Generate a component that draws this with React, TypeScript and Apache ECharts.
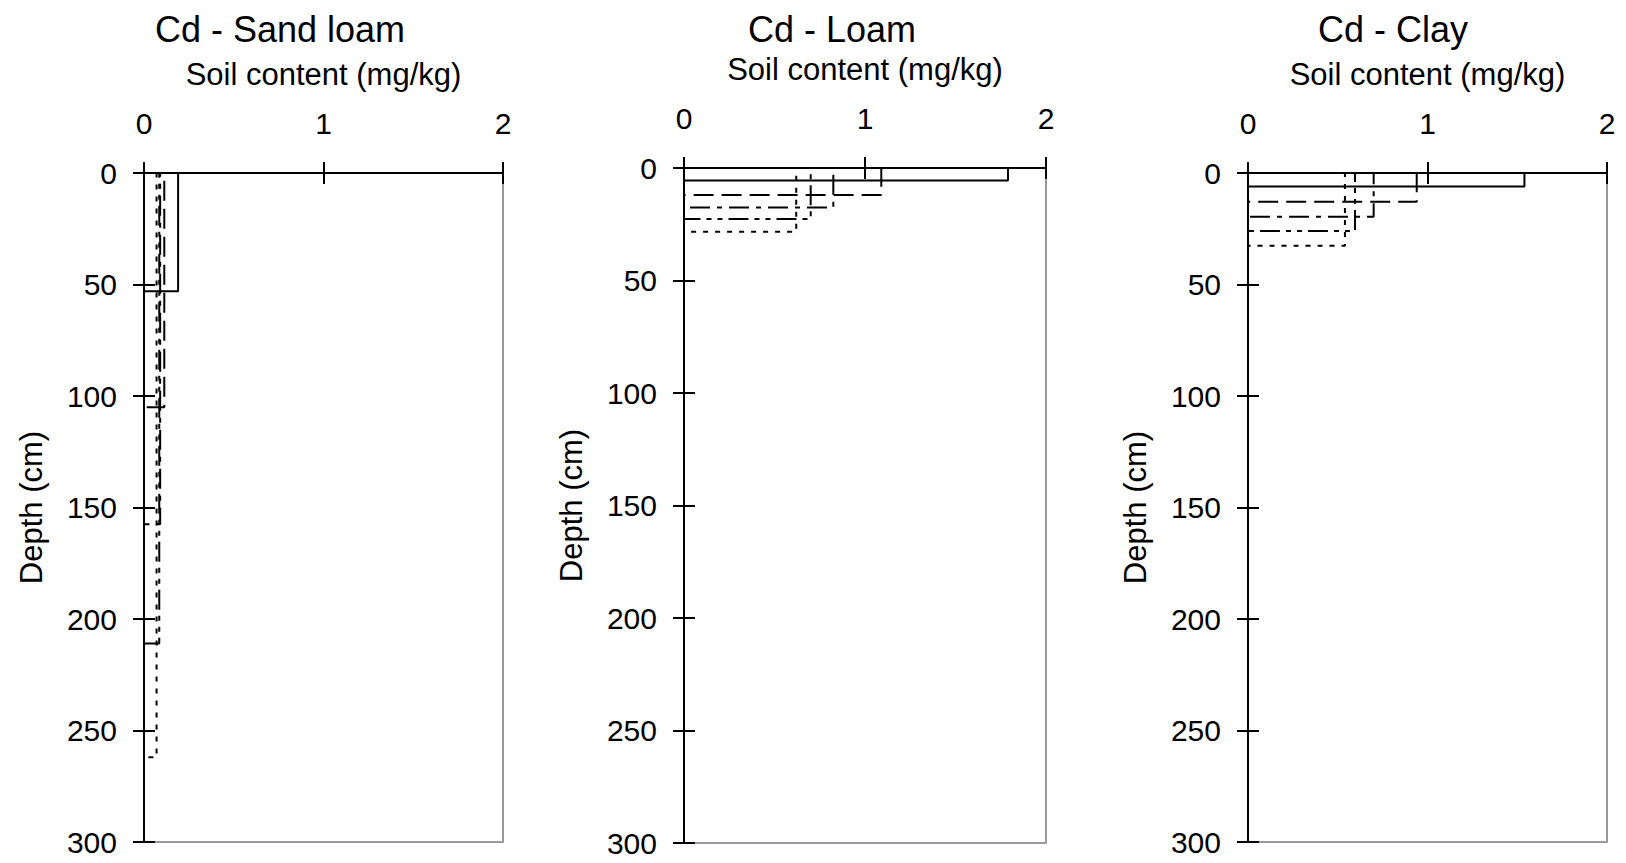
import { useEffect, useRef } from "react";
import * as echarts from "echarts";

// ---- data ----
const panelTitles = ["Cd - Sand loam", "Cd - Loam", "Cd - Clay"];
const xAxisName = "Soil content (mg/kg)";
const yAxisName = "Depth (cm)";
const contentTicks = [0, 1, 2];
const depthTicks = [0, 50, 100, 150, 200, 250, 300];
const profileNames = ["Profile 1", "Profile 2", "Profile 3", "Profile 4", "Profile 5"];

// content (mg/kg) of each profile and the depth (cm) it reaches
const sandLoamContent = [0.19, 0.113, 0.09, 0.085, 0.07];
const sandLoamDepth = [53, 105, 157.5, 211, 262];
const loamContent = [1.79, 1.09, 0.825, 0.7, 0.62];
const loamDepth = [5.6, 12, 17.5, 22.7, 28.3];
const clayContent = [1.54, 0.94, 0.7, 0.596, 0.54];
const clayDepth = [6.1, 12.9, 19.6, 26, 32.6];

const panelContent = [sandLoamContent, loamContent, clayContent];
const panelDepth = [sandLoamDepth, loamDepth, clayDepth];

// ---- layout / style ----
const FONT = '"Liberation Sans", Arial, sans-serif';
const grids = [
  { left: 144, top: 173, width: 359, height: 669 },
  { left: 684, top: 168, width: 362, height: 675 },
  { left: 1248, top: 173, width: 359, height: 669 },
];
const titlePos = [
  [280, 29],
  [832, 29],
  [1393, 29],
];
const dashes: any[] = ["solid", [20, 8], [20, 7, 5, 7], [20, 6, 5, 6, 5, 6], [5, 7]];

function buildOption() {
  const xMin = contentTicks[0];
  const xMax = contentTicks[contentTicks.length - 1];
  const xInt = contentTicks[1] - contentTicks[0];
  const yMin = depthTicks[0];
  const yMax = depthTicks[depthTicks.length - 1];
  const yInt = depthTicks[1] - depthTicks[0];

  const grid: any[] = [];
  const xAxis: any[] = [];
  const yAxis: any[] = [];
  const series: any[] = [];

  grids.forEach((g, i) => {
    grid.push({
      ...g,
      show: true,
      borderColor: "#9a9a9a",
      borderWidth: 2,
      backgroundColor: "transparent",
    });
    const tickStyle = { color: "#000", width: 2 };
    xAxis.push({
      gridIndex: i,
      type: "value",
      position: "top",
      min: xMin,
      max: xMax,
      interval: xInt,
      axisLine: { show: true, onZero: false, lineStyle: { color: "#000", width: 2 } },
      axisTick: { show: true, length: 11, lineStyle: tickStyle },
      axisLabel: { fontSize: 30, color: "#000", margin: 35, fontFamily: FONT },
      splitLine: { show: false },
      name: xAxisName,
      nameLocation: "middle",
      nameGap: 83,
      nameTextStyle: { fontSize: 31, color: "#000", fontFamily: FONT },
    });
    xAxis.push({
      gridIndex: i,
      type: "value",
      position: "top",
      min: xMin,
      max: xMax,
      interval: xInt,
      axisLine: { show: false, onZero: false },
      axisTick: { show: true, inside: true, length: 11, lineStyle: tickStyle },
      axisLabel: { show: false },
      splitLine: { show: false },
    });
    yAxis.push({
      gridIndex: i,
      type: "value",
      position: "left",
      inverse: true,
      min: yMin,
      max: yMax,
      interval: yInt,
      axisLine: { show: true, onZero: false, lineStyle: { color: "#000", width: 2 } },
      axisTick: { show: true, length: 11, lineStyle: tickStyle },
      axisLabel: { fontSize: 30, color: "#000", margin: 27, fontFamily: FONT },
      splitLine: { show: false },
      name: yAxisName,
      nameLocation: "middle",
      nameGap: 97,
      nameRotate: 90,
      nameTextStyle: { fontSize: 31, color: "#000", fontFamily: FONT },
    });
    yAxis.push({
      gridIndex: i,
      type: "value",
      position: "left",
      inverse: true,
      min: yMin,
      max: yMax,
      interval: yInt,
      axisLine: { show: false, onZero: false },
      axisTick: { show: true, inside: true, length: 11, lineStyle: tickStyle },
      axisLabel: { show: false },
      splitLine: { show: false },
    });

    const contents = panelContent[i];
    const depths = panelDepth[i];
    contents.forEach((v, j) => {
      const d = depths[j];
      series.push({
        type: "line",
        name: profileNames[j],
        xAxisIndex: 2 * i,
        yAxisIndex: 2 * i,
        data: [
          [0, 0],
          [v, 0],
          [v, d],
          [0, d],
        ],
        symbol: "none",
        clip: false,
        silent: true,
        lineStyle: { color: "#000", width: 2, type: dashes[j] },
      });
    });
  });

  const graphic = panelTitles.map((t, i) => ({
    type: "text",
    x: titlePos[i][0],
    y: titlePos[i][1],
    silent: true,
    style: {
      text: t,
      fill: "#000",
      font: `36px ${FONT}`,
      align: "center",
      verticalAlign: "middle",
    },
  }));

  return {
    animation: false,
    backgroundColor: "#fff",
    textStyle: { fontFamily: FONT },
    grid,
    xAxis,
    yAxis,
    series,
    graphic,
  };
}

export default function App() {
  const ref = useRef<HTMLDivElement>(null);
  useEffect(() => {
    if (!ref.current) return;
    const chart = echarts.init(ref.current, undefined, { renderer: "svg" });
    chart.setOption(buildOption() as any);
    return () => chart.dispose();
  }, []);
  return (
    <div
      ref={ref}
      style={{ position: "absolute", left: 0, top: 0, width: 1626, height: 863 }}
    />
  );
}
